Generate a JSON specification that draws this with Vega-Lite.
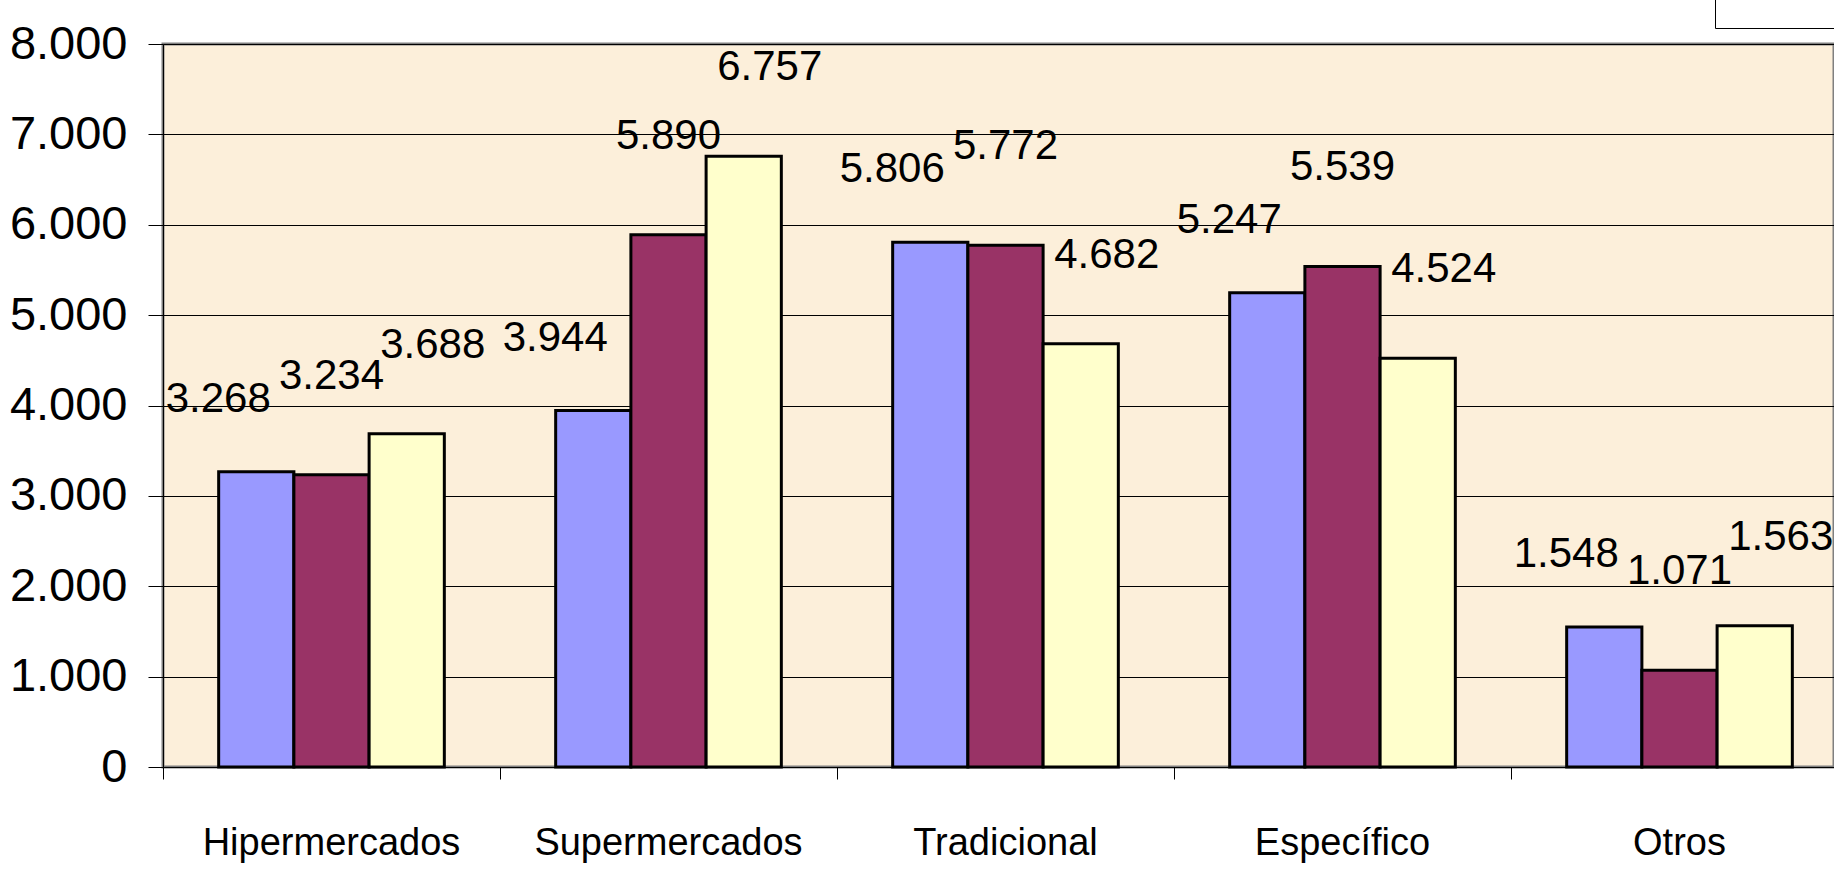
{
  "$schema": "https://vega.github.io/schema/vega-lite/v6.json",
  "width": 1671,
  "height": 723,
  "autosize": {"type": "none"},
  "padding": {"left": 163, "top": 44, "right": 0, "bottom": 108},
  "background": "white",
  "config": {
    "locale": {"number": {"decimal": ",", "thousands": ".", "grouping": [3], "currency": ["", " €"]}},
    "view": {"fill": "#FCEFDA", "stroke": "#808080", "strokeWidth": 3},
    "font": "Liberation Sans"
  },
  "data": {
    "values": [
      {"cat": "Hipermercados", "serie": "Serie 1", "value": 3268},
      {"cat": "Hipermercados", "serie": "Serie 2", "value": 3234},
      {"cat": "Hipermercados", "serie": "Serie 3", "value": 3688},
      {"cat": "Supermercados", "serie": "Serie 1", "value": 3944},
      {"cat": "Supermercados", "serie": "Serie 2", "value": 5890},
      {"cat": "Supermercados", "serie": "Serie 3", "value": 6757},
      {"cat": "Tradicional", "serie": "Serie 1", "value": 5806},
      {"cat": "Tradicional", "serie": "Serie 2", "value": 5772},
      {"cat": "Tradicional", "serie": "Serie 3", "value": 4682},
      {"cat": "Específico", "serie": "Serie 1", "value": 5247},
      {"cat": "Específico", "serie": "Serie 2", "value": 5539},
      {"cat": "Específico", "serie": "Serie 3", "value": 4524},
      {"cat": "Otros", "serie": "Serie 1", "value": 1548},
      {"cat": "Otros", "serie": "Serie 2", "value": 1071},
      {"cat": "Otros", "serie": "Serie 3", "value": 1563}
    ]
  },
  "encoding": {
    "x": {
      "field": "cat", "type": "nominal",
      "sort": ["Hipermercados", "Supermercados", "Tradicional", "Específico", "Otros"],
      "scale": {"range": [0, 1685], "paddingInner": 0, "paddingOuter": 0},
      "axis": {
        "title": null, "bandPosition": 0, "labelAngle": 0, "domain": false, "grid": false,
        "tickSize": 12, "tickColor": "black", "tickWidth": 1, "labelLimit": 0,
        "labelFontSize": 38, "labelColor": "black", "labelPadding": 45, "labelFont": "Liberation Sans"
      }
    },
    "xOffset": {"field": "serie", "type": "nominal", "scale": {"paddingInner": 0, "paddingOuter": 0.74}},
    "y": {
      "field": "value", "type": "quantitative",
      "scale": {"domain": [0, 8000], "nice": false},
      "axis": {
        "title": null, "values": [0, 1000, 2000, 3000, 4000, 5000, 6000, 7000, 8000], "format": ",d",
        "labelFontSize": 47, "labelColor": "black", "labelPadding": 21, "labelFont": "Liberation Sans",
        "tickSize": 15, "tickColor": "black", "tickWidth": 1,
        "grid": true, "gridColor": "black", "gridWidth": 1, "gridOpacity": 1,
        "domainColor": "black", "domainWidth": 1
      }
    }
  },
  "layer": [
    {
      "mark": {"type": "bar", "stroke": "black", "strokeWidth": 3},
      "encoding": {
        "color": {
          "field": "serie", "type": "nominal",
          "scale": {"domain": ["Serie 1", "Serie 2", "Serie 3"], "range": ["#9999FF", "#993366", "#FFFFCC"]},
          "legend": {
            "orient": "none", "legendX": 1552, "legendY": -100, "direction": "horizontal", "title": null,
            "labelExpr": "''", "strokeColor": "black", "fillColor": "white", "padding": 30,
            "symbolType": "square", "symbolSize": 400, "columnPadding": 10
          }
        }
      }
    },
    {
      "transform": [{"filter": "datum.serie === 'Serie 1'"}],
      "mark": {"type": "text", "dx": -38, "dy": -60, "fontSize": 42, "baseline": "alphabetic", "color": "black", "font": "Liberation Sans"},
      "encoding": {"text": {"field": "value", "type": "quantitative", "format": ",d"}}
    },
    {
      "transform": [{"filter": "datum.serie === 'Serie 2'"}],
      "mark": {"type": "text", "dx": 0, "dy": -86, "fontSize": 42, "baseline": "alphabetic", "color": "black", "font": "Liberation Sans"},
      "encoding": {"text": {"field": "value", "type": "quantitative", "format": ",d"}}
    },
    {
      "transform": [{"filter": "datum.serie === 'Serie 3'"}],
      "mark": {"type": "text", "dx": 26, "dy": -76, "fontSize": 42, "baseline": "alphabetic", "color": "black", "font": "Liberation Sans"},
      "encoding": {"text": {"field": "value", "type": "quantitative", "format": ",d"}}
    }
  ]
}
